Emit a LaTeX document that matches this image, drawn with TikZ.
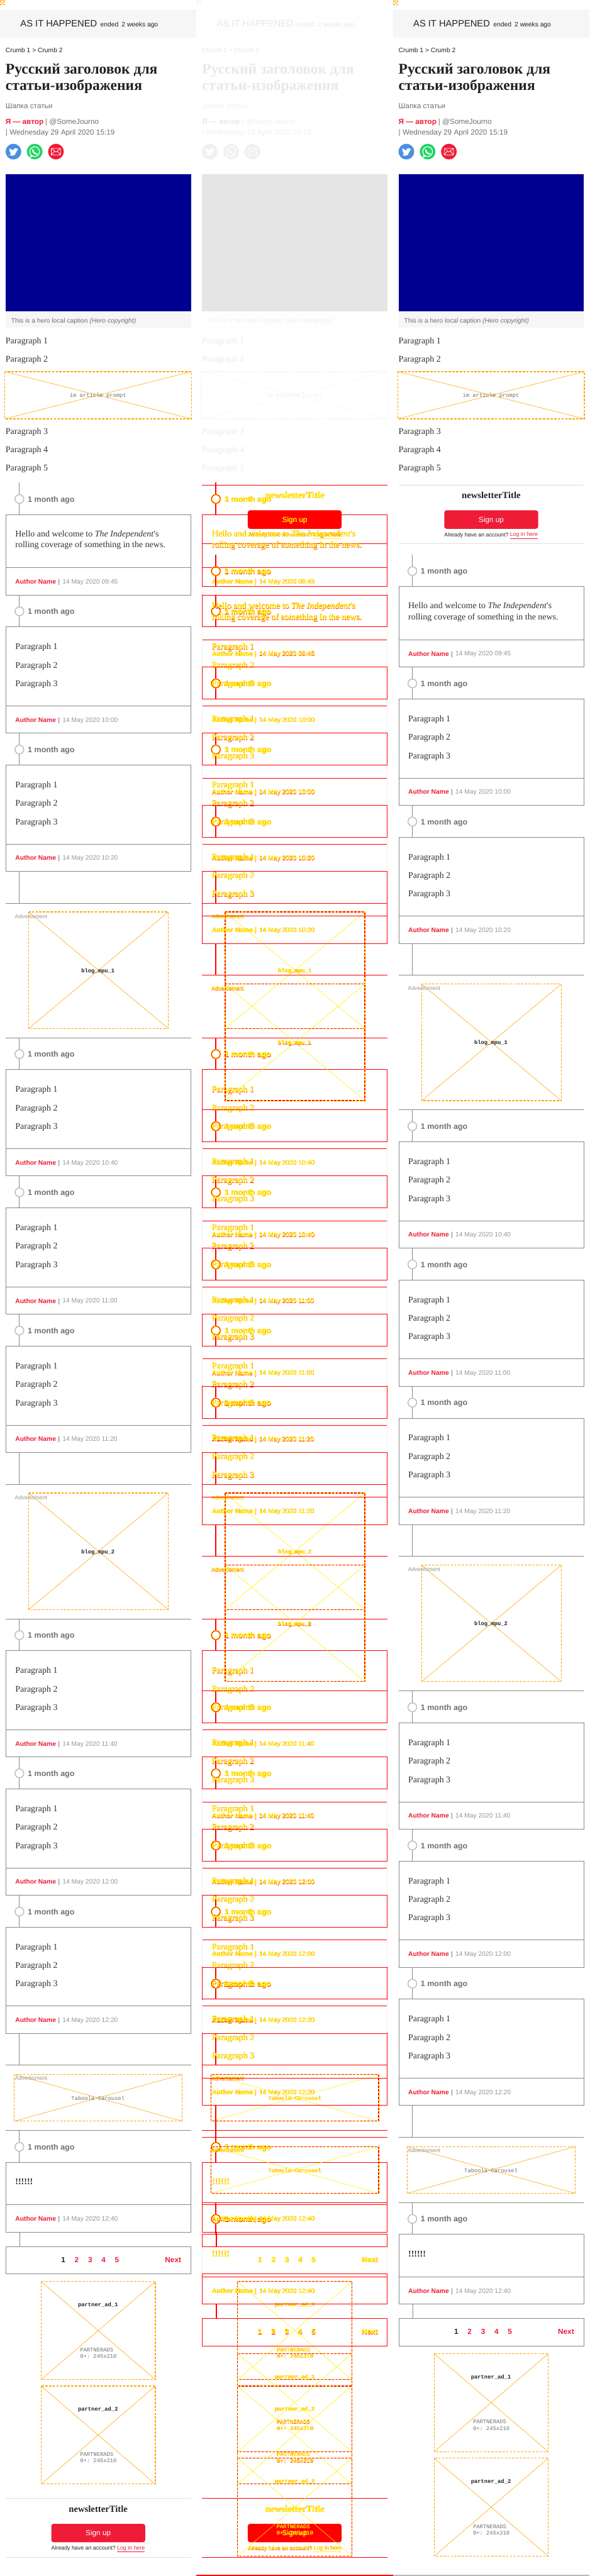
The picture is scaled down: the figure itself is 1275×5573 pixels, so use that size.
\documentclass[tikz,border=0pt]{standalone}
\usepackage{fontspec}
\setmainfont{Liberation Serif}
\setsansfont{Liberation Sans}
\setmonofont{Liberation Mono}
\usepackage{tikz}
\definecolor{hdred}{RGB}{238,28,55}
\definecolor{twblue}{RGB}{74,144,226}
\definecolor{wagreen}{RGB}{37,211,102}
\definecolor{navyhero}{RGB}{0,0,144}
\definecolor{bandgray}{RGB}{246,246,246}
\definecolor{inkdark}{RGB}{34,34,34}
\definecolor{inkbody}{RGB}{51,51,51}
\definecolor{inkmid}{RGB}{112,112,112}
\definecolor{inkdate}{RGB}{150,150,150}
\definecolor{boxln}{RGB}{136,136,136}
\definecolor{ringln}{RGB}{190,190,190}
\definecolor{softln}{RGB}{222,222,222}
\definecolor{faintln}{RGB}{240,240,240}
\definecolor{adln}{RGB}{255,165,0}
\definecolor{crossln}{RGB}{255,165,0}
\definecolor{btnfill}{RGB}{238,28,55}
\definecolor{mailfill}{RGB}{238,28,55}
\colorlet{herofill}{navyhero}
\newif\ifdiff
\newcounter{lbl}

\tikzset{
  sans/.style={font=\sffamily\fontsize{#1}{#1}\selectfont},
  sansb/.style={font=\sffamily\bfseries\fontsize{#1}{#1}\selectfont},
  ser/.style={font=\rmfamily\fontsize{#1}{#1}\selectfont},
  serb/.style={font=\rmfamily\bfseries\fontsize{#1}{#1}\selectfont},
  mono/.style={font=\ttfamily\fontsize{#1}{#1}\selectfont},
  monob/.style={font=\ttfamily\bfseries\fontsize{#1}{#1}\selectfont},
  boxedge/.style={draw=boxln,line width=1.1pt},
  softedge/.style={draw=softln,line width=1pt},
  tline/.style={draw=boxln,line width=2pt},
  dashedge/.style={draw=adln,line width=1.7pt,dash pattern=on 5pt off 3pt},
  crossedge/.style={draw=crossln,line width=.8pt},
  iconlayer/.style={},
}

% one text, doubled in the diff column
\newcommand\lbl[3][]{%
  \stepcounter{lbl}%
  \ifdiff
    \node[anchor=west,inner sep=0pt,#1,text=red,xshift=.6pt,yshift=-2.7pt] (l\arabic{lbl}r) at (#2) {\strut #3};
    \node[anchor=west,inner sep=0pt,#1,text=yellow,xshift=.3pt,yshift=-2.2pt] (l\arabic{lbl}y) at (#2) {\strut #3};
    \node[anchor=west,inner sep=0pt,#1,text=yellow,yshift=-2.2pt] (l\arabic{lbl}) at (#2) {\strut #3};
  \else
    \node[anchor=west,inner sep=0pt,#1,yshift=-2.2pt] (l\arabic{lbl}) at (#2) {\strut #3};
  \fi}

\newcommand\adbox[4]{%
  \ifdiff \draw[yellow,line width=1.7pt] (#1,#2) rectangle (#3,#4); \fi
  \draw[dashedge] (#1,#2) rectangle (#3,#4);
  \draw[crossedge] (#1,#2) -- (#3,#4) (#1,#4) -- (#3,#2);}

% timeline stub, ring and one boxed post
\newcommand\entry[4]{%
  \pgfmathsetmacro\T{#1+69}\pgfmathsetmacro\B{\T+#2}
  \draw[tline] (41.5,#1) -- (41.5,#1+26) (41.5,#1+45) -- (41.5,\T);
  \ifdiff
    \draw[yellow,line width=3pt] (42,#1+35.5) circle (9.5);
    \draw[red,line width=1.2pt] (42,#1+35.5) circle (9.5);
  \else
    \draw[draw=ringln,line width=2pt] (42,#1+35.5) circle (9.5);
  \fi
  \lbl[sansb=17,text=inkmid]{60,#1+36}{1 month ago}
  \draw[boxedge] (12.5,\T) rectangle (412.5,\B);
  \draw[boxedge] (12.5,\B-59) -- (412.5,\B-59);
  #4
  \lbl[sansb=14,text=hdred]{33,\B-29}{Author Name}
  \lbl[sansb=14,text=inkdate]{125.5,\B-29}{|}
  \lbl[sans=14,text=inkdate]{135,\B-29}{14 May 2020 #3}}

\newcommand\threeparas{%
  \foreach \n/\dy in {1/43,2/83,3/123} {\lbl[ser=19,text=inkbody]{33,\T+\dy}{Paragraph \n}}}
\newcommand\hellopost{%
  \lbl[ser=19,text=inkbody]{33,\T+42}{Hello and welcome to \textit{The Independent}\textquotesingle s}
  \lbl[ser=19,text=inkbody]{33,\T+66}{rolling coverage of something in the news.}}
\newcommand\bangpost{\lbl[serb=19,text=inkdark]{33,\T+42}{!!!!!!}}

\newcommand\midrule[1]{\draw[boxedge] (12,#1) -- (413,#1);}
\newcommand\blogad[3]{% hr above, height, name
  \draw[tline] (41.5,#1-69) -- (41.5,#1);
  \midrule{#1}
  \adbox{62}{#1+19}{364}{#1+271}
  \lbl[sans=12,text=inkdate]{32,#1+28}{Advertisment}
  \lbl[monob=12,anchor=center,text=inkdark]{212,#1+145}{#3}
  \midrule{#1+291}}

\newcommand\partnerad[2]{%
  \adbox{89}{#1}{336}{#1+212}
  \lbl[monob=12,anchor=center,text=inkdark]{212,#1+49}{partner\_ad\_#2}
  \lbl[mono=12,text=inkmid]{173,#1+147}{PARTNERADS}
  \lbl[mono=12,text=inkmid]{173,#1+161}{0+: 245x210}}

% everything from the first post down to the partner ads
\newcommand\liveblog{%
  \entry{1044}{174}{09:45}{\hellopost}
  \foreach \ee/\hh in {1287/10:00,1586/10:20} {\entry{\ee}{230}{\hh}{\threeparas}}
  \blogad{1954}{252}{blog\_mpu\_1}
  \foreach \ee/\hh in {2245/10:40,2544/11:00,2843/11:20} {\entry{\ee}{230}{\hh}{\threeparas}}
  \blogad{3211}{252}{blog\_mpu\_2}
  \foreach \ee/\hh in {3502/11:40,3801/12:00,4100/12:20} {\entry{\ee}{230}{\hh}{\threeparas}}
  % taboola slot
  \draw[tline] (41.5,4399) -- (41.5,4468);
  \midrule{4468}
  \adbox{31}{4488}{394}{4589}
  \lbl[sans=12,text=inkdate]{32,4496}{Advertisment}
  \lbl[mono=12,anchor=center,text=inkmid]{212,4539}{Taboola-Carousel}
  \midrule{4609}
  \entry{4609}{151}{12:40}{\bangpost}
  % pagination
  \draw[tline] (43,4829) -- (43,4860);
  \draw[boxedge] (12.5,4860) rectangle (412.5,4919);
  \lbl[sansb=16,anchor=center,text=inkdark]{137,4889}{1}
  \foreach \n/\xx in {2/166,3/195,4/224,5/253} {\lbl[sansb=16,anchor=center,text=hdred]{\xx,4889}{\n}}
  \lbl[sansb=16,anchor=east,text=hdred]{392,4889}{Next}
  \partnerad{4936}{1}
  \partnerad{5162}{2}}

% newsletter strip
\newcommand\signup[1]{%
  \draw[softedge] (12,#1) -- (413,#1);
  \lbl[serb=20,anchor=center,text=inkdark]{212.5,#1+23}{newsletterTitle}
  \fill[btnfill,rounded corners=5pt] (111,#1+55) rectangle (314,#1+95);
  \lbl[sans=16,anchor=center,text=white]{212.5,#1+75}{Sign up}
  \lbl[sans=12,text=inkdark]{111,#1+107}{Already have an account?}
  \lbl[sans=12,text=hdred]{253,#1+107}{\underline{Log in here}}
  \draw[softedge] (12,#1+127) -- (413,#1+127);}

% masthead down to paragraph 5
\newcommand\topblock{%
  \fill[bandgray] (0,20) rectangle (425,82);
  \adbox{.8}{.8}{10.5}{10.5}
  \lbl[sans=20,text=inkdark]{44,52}{AS IT HAPPENED}
  \lbl[sans=14,text=inkdark]{217,52}{ended}
  \lbl[sans=14,text=inkdark]{263,52}{2 weeks ago}
  \lbl[sans=14,text=inkdark]{12,108}{Crumb 1 > Crumb 2}
  \lbl[serb=32,text=inkdark]{12,151}{Русский заголовок для}
  \lbl[serb=32,text=inkdark]{12,187}{статьи-изображения}
  \lbl[sans=16,text=inkmid]{12,229}{Шапка статьи}
  \lbl[sansb=16,text=hdred]{12,263}{Я — автор}
  \lbl[sans=16,text=inkmid]{98,263}{| @SomeJourno}
  \lbl[sans=16,text=inkmid]{12,286}{| Wednesday 29 April 2020 15:19}
  % share icons
  \begin{scope}[iconlayer]
  \fill[twblue] (29,328) circle (17);
  \fill[white,rounded corners=.6pt,shift={(19,318.5)},x=.85pt,y=-.85pt]
    (24,4.6) -- (21.1,5.3) -- (23.3,2.6) -- (20.2,3.8) -- (16.5,2.2) -- (12,5.5) -- (11.9,8.3)
    -- (1.6,3.2) -- (1,5.6) -- (3.2,9.7) -- (.9,9.1) -- (4.9,14) -- (2.7,14.1) -- (7.3,17.5)
    -- (1.2,19.6) -- (0,19.5) -- (7.6,21.8) -- (15,20) -- (21.5,7.8) -- cycle;
  \fill[wagreen] (75,328) circle (17);
  \draw[white,line width=1.6pt] (75,328) circle (10.5);
  \draw[white,line width=1.6pt] (67,336) -- (65,340) -- (70,338);
  \draw[white,line width=3pt,line cap=round] (71,324) .. controls (71,329) and (75,333) .. (80,333);
  \fill[mailfill] (121,328) circle (17);
  \draw[white,line width=1pt] (111,321) rectangle (131,335) (111,321) -- (121,329) -- (131,321)
    (111,335) -- (118,327) (131,335) -- (124,327);
  \end{scope}
  % hero and caption
  \fill[herofill] (12,377) rectangle (413,673);
  \fill[bandgray] (12,673) rectangle (413,709);
  \lbl[sans=14,text=inkmid]{24,694}{This is a hero local caption \textit{(Hero copyright)}}
  \lbl[ser=19,text=inkbody]{12,737}{Paragraph 1}
  \lbl[ser=19,text=inkbody]{12,777}{Paragraph 2}
  \adbox{10.5}{804}{414}{906}
  \lbl[mono=12,anchor=center,text=inkmid]{212,855}{im article prompt}
  \lbl[ser=19,text=inkbody]{12,933}{Paragraph 3}
  \lbl[ser=19,text=inkbody]{12,973}{Paragraph 4}
  \lbl[ser=19,text=inkbody]{12,1013}{Paragraph 5}}

\begin{document}
\begin{tikzpicture}[x=1pt,y=-1pt]
  \useasboundingbox (0,0) rectangle (1275,5573);
  \fill[white] (0,0) rectangle (1275,5573);

  % reference column
  \topblock
  \liveblog
  \signup{5405}

  % diff column
  \begin{scope}[xshift=425pt]
    \begingroup
    \colorlet{herofill}{black}\colorlet{hdred}{inkdark}\colorlet{adln}{gray!70}\colorlet{crossln}{gray!70}
    \colorlet{twblue}{black!6}\colorlet{wagreen}{black!6}\colorlet{mailfill}{black!6}
    \tikzset{iconlayer/.style={opacity=1}}
    \begin{scope}[opacity=.1]
      \topblock
    \end{scope}
    \endgroup
    \difftrue
    \colorlet{boxln}{red}\colorlet{softln}{red}\colorlet{adln}{red}\colorlet{crossln}{yellow}\colorlet{btnfill}{red}
    \signup{1049}
    \signup{5405}
    \liveblog
    \begin{scope}[yshift=-156pt]
      \liveblog
    \end{scope}
    % box sides shared by both layouts wash out
    \foreach \aa/\bb in {1113/1287,1356/1586,1655/1885,2314/2544,2613/2843,2912/3142,3571/3801,3870/4100,4169/4399,4678/4829,4860/4919} {
      \foreach \cc/\dd in {1269/1443,1512/1742,1811/2041,2470/2700,2769/2999,3068/3298,3727/3957,4026/4256,4325/4555,4834/4985,5016/5075} {
        \pgfmathsetmacro\lo{max(\aa,\cc)}
        \pgfmathsetmacro\hi{min(\bb,\dd)}
        \ifdim\lo pt<\hi pt
          \draw[faintln,line width=1.6pt] (12.5,\lo+1) -- (12.5,\hi-1) (412.5,\lo+1) -- (412.5,\hi-1);
        \fi
      }
    }
    \fill[red] (0,5570) rectangle (425,5573);
  \end{scope}

  % test column
  \begin{scope}[xshift=850pt]
    \topblock
    \signup{1049}
    \begin{scope}[yshift=-156pt]
      \liveblog
    \end{scope}
    \fill[gray!55] (0,5570) rectangle (425,5573);
  \end{scope}
\end{tikzpicture}
\end{document}
